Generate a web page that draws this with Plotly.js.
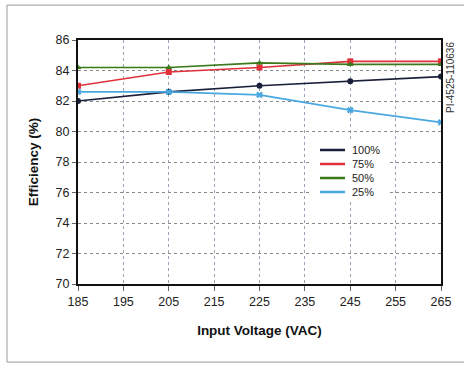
<!DOCTYPE html>
<html><head><meta charset="utf-8">
<script src="https://cdn.plot.ly/plotly-3.0.1.min.js"></script>
<style>html,body{margin:0;padding:0;background:#fff;}#chart{width:464px;height:365px;}</style>
</head><body><div id="chart"></div>
<script>
const voltages = [185, 205, 225, 245, 265];
const load100 = [82.0, 82.6, 83.0, 83.3, 83.6];
const load75 = [83.0, 83.9, 84.2, 84.6, 84.6];
const load50 = [84.2, 84.2, 84.5, 84.4, 84.4];
const load25 = [82.6, 82.6, 82.4, 81.4, 80.6];
const seriesNames = ['100%', '75%', '50%', '25%'];
const xTicks = [185, 195, 205, 215, 225, 235, 245, 255, 265];
const yTicks = [70, 72, 74, 76, 78, 80, 82, 84, 86];

const colors = ['#1a1f3a', '#e0303a', '#3a7a1a', '#4aa8e0'];
const symbols = ['circle', 'square', 'triangle-up', 'x'];
const data = [load100, load75, load50, load25].map((y, i) => ({
  x: voltages, y: y, name: seriesNames[i], type: 'scatter', mode: 'lines+markers',
  line: {color: colors[i], width: 1.6},
  marker: {symbol: symbols[i], size: 6, color: colors[i]},
  showlegend: false
}));

// custom compact legend (key lines + labels)
const legX0 = (320 - 78) / 363, legX1 = (345 - 78) / 363, legTx = (350 - 78) / 363;
const legY = [150, 164, 178, 192].map(p => (284 - p) / 244);
const shapes = [
  {type: 'rect', xref: 'paper', yref: 'paper', x0: -0.1956, x1: 1.2, y0: -0.32, y1: 1.143,
   line: {color: '#999', width: 1}, fillcolor: 'rgba(0,0,0,0)', layer: 'below'},
  {type: 'rect', xref: 'paper', yref: 'paper', x0: (312 - 78) / 363, x1: (390 - 78) / 363,
   y0: (284 - 200) / 244, y1: (284 - 142) / 244, line: {width: 0}, fillcolor: '#fff', layer: 'above'}
];
const annotations = [
  {text: 'PI-4525-110636', xref: 'paper', yref: 'paper', x: 1.0, y: 1.0, xanchor: 'left', yanchor: 'top',
   xshift: 2, textangle: -90, showarrow: false, font: {size: 10, color: '#333'}}
];
seriesNames.forEach((n, i) => {
  shapes.push({type: 'line', xref: 'paper', yref: 'paper', x0: legX0, x1: legX1, y0: legY[i], y1: legY[i],
    line: {color: colors[i], width: 2.5}, layer: 'above'});
  annotations.push({text: n, xref: 'paper', yref: 'paper', x: legTx, y: legY[i], xanchor: 'left', yanchor: 'middle',
    showarrow: false, font: {size: 11, color: '#222'}});
});

const layout = {
  width: 464, height: 365,
  margin: {l: 78, r: 23, t: 40, b: 81},
  paper_bgcolor: '#fff', plot_bgcolor: '#fff',
  font: {family: 'Liberation Sans, Arial, sans-serif', color: '#222'},
  xaxis: {
    range: [185, 265], tickvals: xTicks, ticktext: xTicks.map(String),
    showgrid: true, gridcolor: '#9aa6b8', griddash: 'dot', gridwidth: 1,
    showline: true, linecolor: '#111', linewidth: 2, mirror: true,
    ticks: 'outside', ticklen: 5, tickcolor: '#666',
    tickfont: {size: 12.5, color: '#222'}, zeroline: false,
    title: {text: '<b>Input Voltage (VAC)</b>', font: {size: 13.5, color: '#111'}, standoff: 18}
  },
  yaxis: {
    range: [70, 86], tickvals: yTicks, ticktext: yTicks.map(String),
    showgrid: true, gridcolor: '#8a8a8a', griddash: 'dot', gridwidth: 1,
    showline: true, linecolor: '#111', linewidth: 2, mirror: true,
    ticks: 'outside', ticklen: 4, tickcolor: '#666',
    tickfont: {size: 12.5, color: '#222'}, zeroline: false,
    title: {text: '<b>Efficiency (%)</b>', font: {size: 13.5, color: '#111'}, standoff: 14}
  },
  showlegend: false,
  shapes: shapes,
  annotations: annotations
};
Plotly.newPlot('chart', data, layout, {displayModeBar: false, staticPlot: true});
</script></body></html>
